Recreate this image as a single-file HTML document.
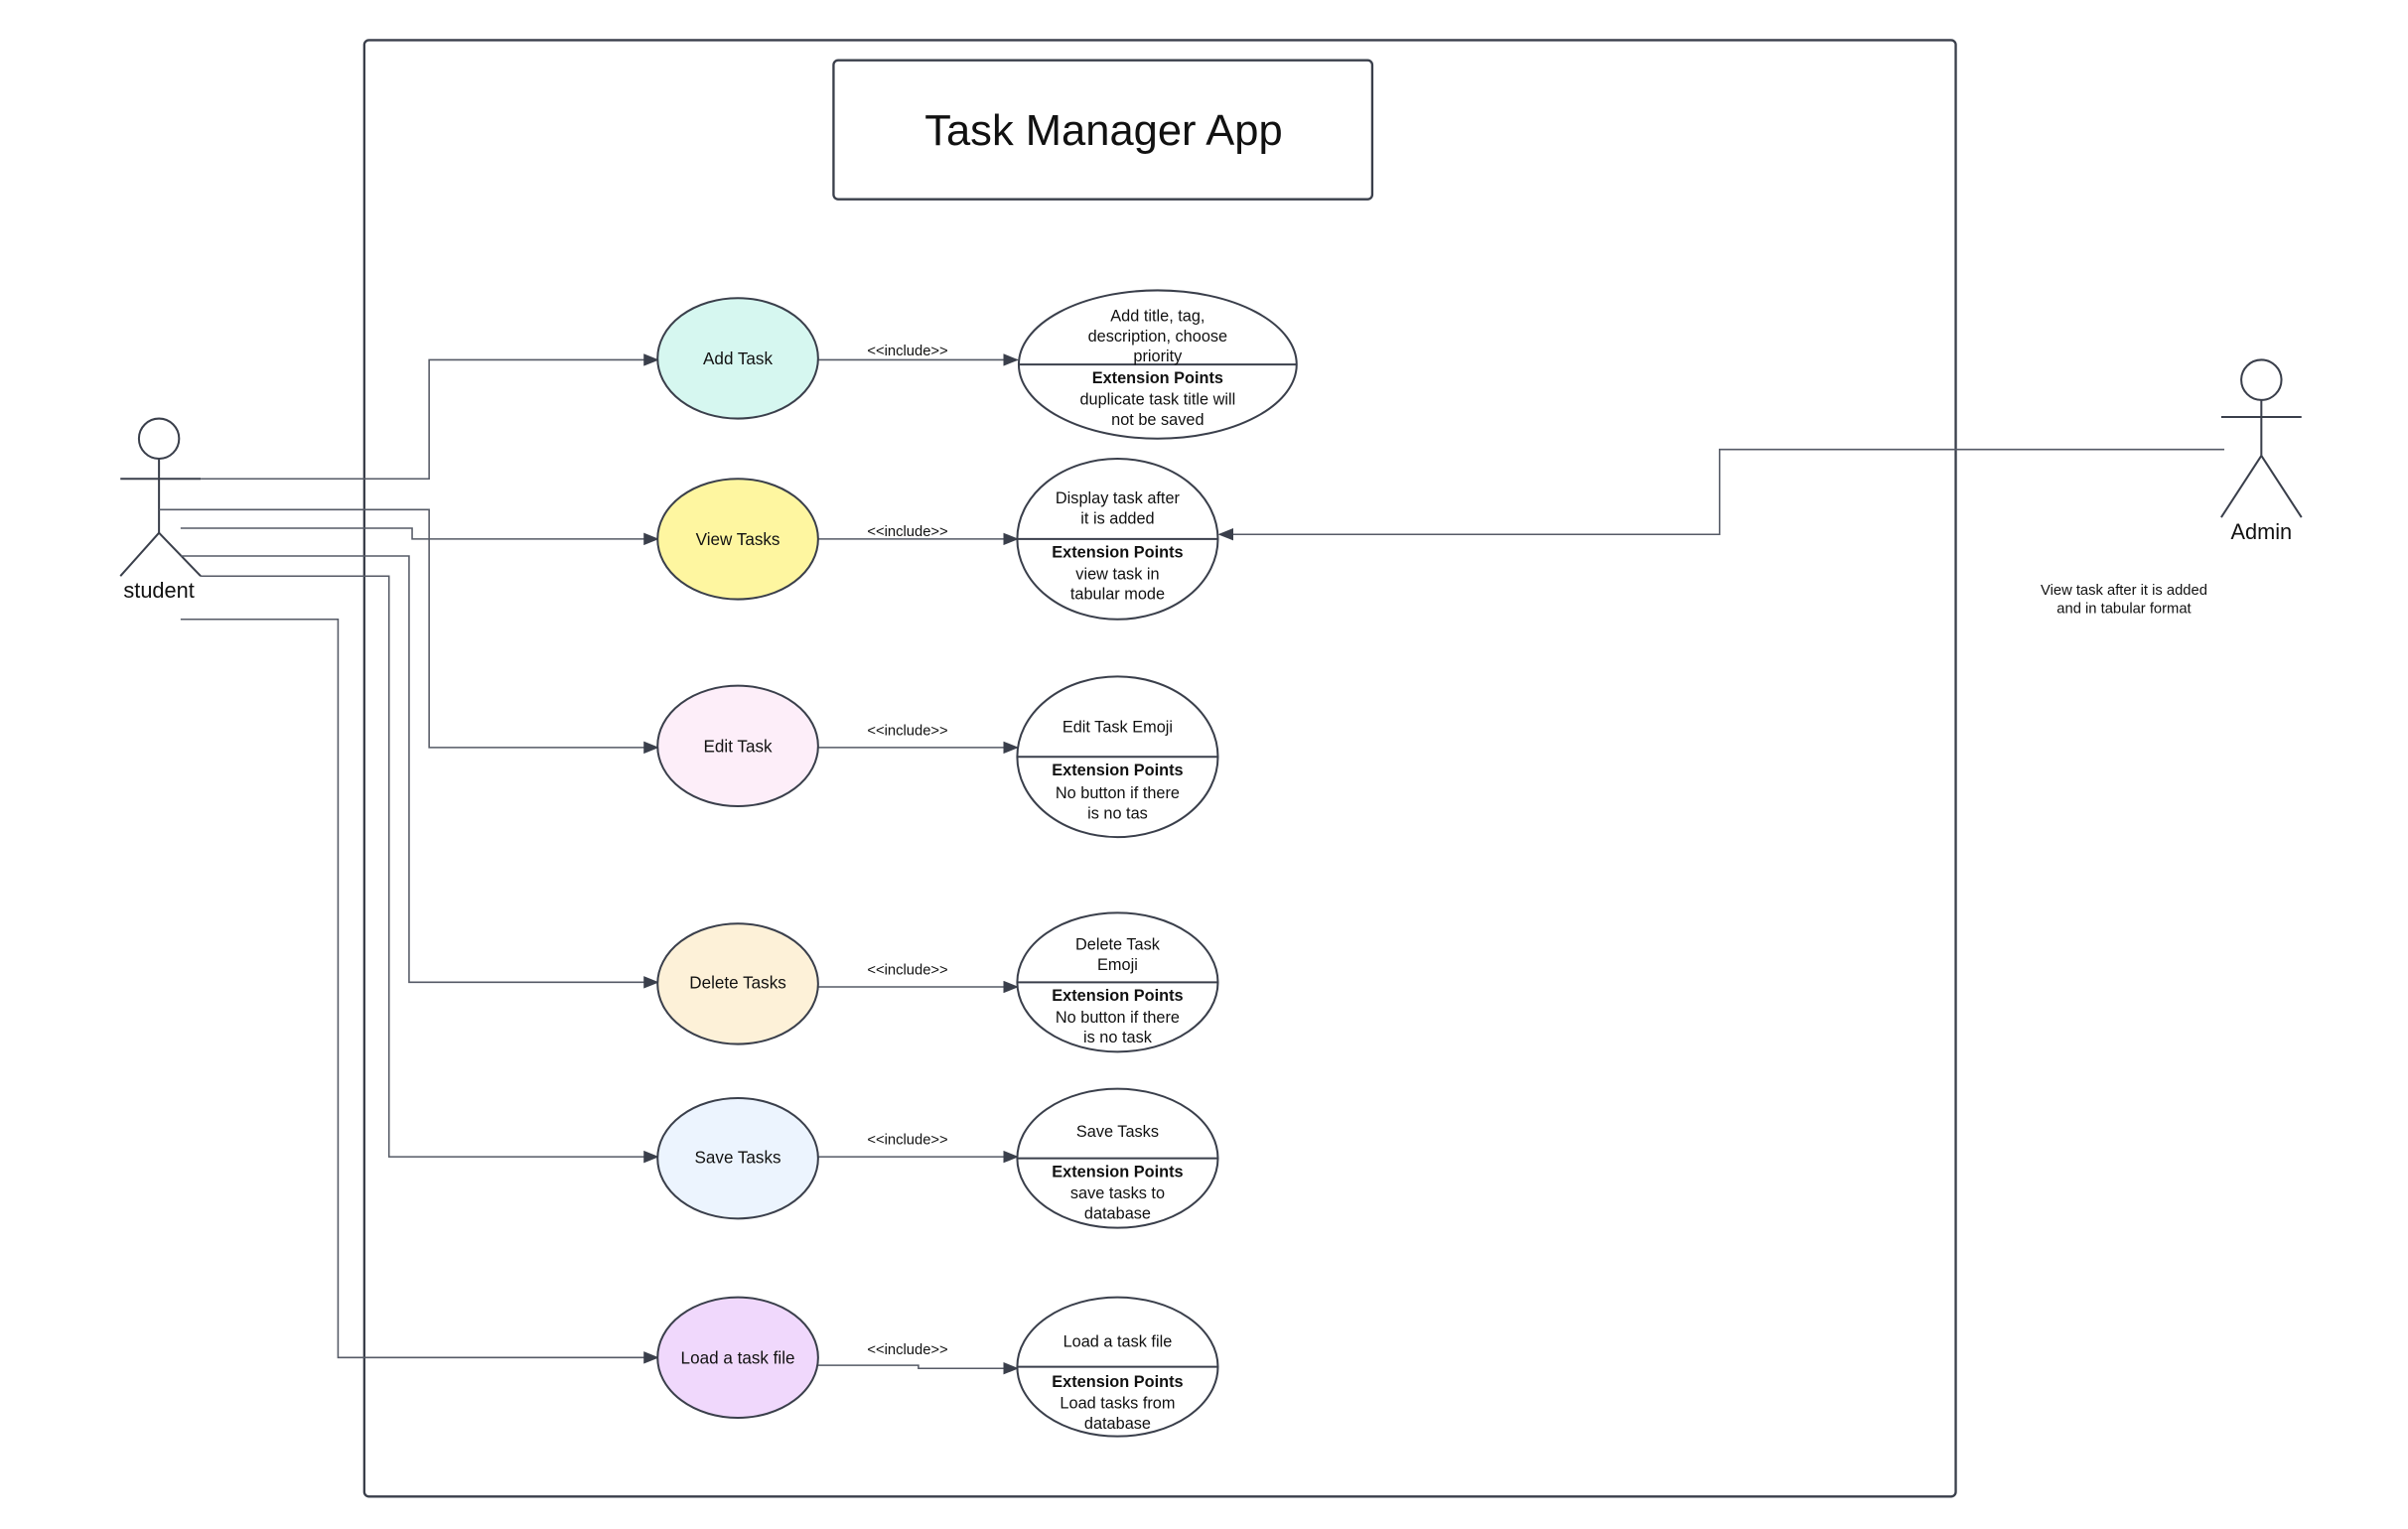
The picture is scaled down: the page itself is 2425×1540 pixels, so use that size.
<!DOCTYPE html>
<html><head><meta charset="utf-8"><style>
html,body{margin:0;padding:0;background:#fff;}
svg{display:block;}
text{font-family:"Liberation Sans",sans-serif;fill:#111;}
</style></head><body>
<svg width="2425" height="1540" viewBox="0 0 1560 990" preserveAspectRatio="none" xmlns="http://www.w3.org/2000/svg">
<defs>
<marker id="ah" markerWidth="10" markerHeight="8" refX="9" refY="4" orient="auto" markerUnits="userSpaceOnUse">
<path d="M0,0 L10,4 L0,8 z" fill="#3a3f4b"/></marker>
</defs>
<rect x="236" y="26" width="1031" height="943" rx="3" fill="none" stroke="#3a3f4b" stroke-width="1.5"/>
<rect x="540" y="39" width="349" height="90" rx="3" fill="#fff" stroke="#3a3f4b" stroke-width="1.5"/>
<text x="715" y="94" font-size="28" text-anchor="middle">Task Manager App</text>

<!-- student -->
<g stroke="#3a3f4b" stroke-width="1.3" fill="none">
<circle cx="103" cy="284" r="13" fill="#fff"/>
<line x1="103" y1="297" x2="103" y2="345"/>
<line x1="78" y1="310" x2="130" y2="310"/>
<line x1="103" y1="345" x2="78" y2="373"/>
<line x1="103" y1="345" x2="130" y2="373"/>
<circle cx="1465" cy="246" r="13" fill="#fff"/>
<line x1="1465" y1="259" x2="1465" y2="295"/>
<line x1="1439" y1="270" x2="1491" y2="270"/>
<line x1="1465" y1="295" x2="1439" y2="335"/>
<line x1="1465" y1="295" x2="1491" y2="335"/>
</g>
<text x="103" y="387" font-size="14" text-anchor="middle">student</text>
<text x="1465" y="349" font-size="14" text-anchor="middle">Admin</text>
<text x="1376" y="385" font-size="9.5" text-anchor="middle">View task after it is added</text>
<text x="1376" y="397" font-size="9.5" text-anchor="middle">and in tabular format</text>

<!-- connectors -->
<g stroke="#555a66" stroke-width="1" fill="none">
<path d="M130,310 H278 V233 H426" marker-end="url(#ah)"/>
<path d="M103,330 H278 V484 H426" marker-end="url(#ah)"/>
<path d="M117,342 H267 V349 H426" marker-end="url(#ah)"/>
<path d="M117,360 H265 V636 H426" marker-end="url(#ah)"/>
<path d="M130,373 H252 V749 H426" marker-end="url(#ah)"/>
<path d="M117,401 H219 V879 H426" marker-end="url(#ah)"/>
<path d="M1441,291 H1114 V346 H790" marker-end="url(#ah)"/>
<path d="M530,233 H659" marker-end="url(#ah)"/>
<path d="M530,349 H659" marker-end="url(#ah)"/>
<path d="M530,484 H659" marker-end="url(#ah)"/>
<path d="M530,639 H659" marker-end="url(#ah)"/>
<path d="M530,749 H659" marker-end="url(#ah)"/>
<path d="M530,884 H595 V886 H659" marker-end="url(#ah)"/>
</g>
<g font-size="9.5" text-anchor="middle">
<text x="588" y="230">&lt;&lt;include&gt;&gt;</text>
<text x="588" y="347">&lt;&lt;include&gt;&gt;</text>
<text x="588" y="476">&lt;&lt;include&gt;&gt;</text>
<text x="588" y="631">&lt;&lt;include&gt;&gt;</text>
<text x="588" y="741">&lt;&lt;include&gt;&gt;</text>
<text x="588" y="877">&lt;&lt;include&gt;&gt;</text>
</g>

<!-- use cases -->
<g stroke="#3a3f4b" stroke-width="1.3">
<ellipse cx="478" cy="232" rx="52" ry="39" fill="#d6f7f0"/>
<ellipse cx="478" cy="349" rx="52" ry="39" fill="#fef6a0"/>
<ellipse cx="478" cy="483" rx="52" ry="39" fill="#fdeef9"/>
<ellipse cx="478" cy="637" rx="52" ry="39" fill="#fdf1d8"/>
<ellipse cx="478" cy="750" rx="52" ry="39" fill="#ecf4fe"/>
<ellipse cx="478" cy="879" rx="52" ry="39" fill="#f0d8fc"/>
</g>
<g font-size="11" text-anchor="middle">
<text x="478" y="236">Add Task</text>
<text x="478" y="353">View Tasks</text>
<text x="478" y="487">Edit Task</text>
<text x="478" y="640">Delete Tasks</text>
<text x="478" y="753">Save Tasks</text>
<text x="478" y="883">Load a task file</text>
</g>

<!-- right ellipses -->
<g stroke="#3a3f4b" stroke-width="1.3" fill="#fff">
<ellipse cx="750" cy="236" rx="90" ry="48"/>
<line x1="660" y1="236" x2="840" y2="236"/>
<ellipse cx="724" cy="349" rx="65" ry="52"/>
<line x1="659" y1="349" x2="789" y2="349"/>
<ellipse cx="724" cy="490" rx="65" ry="52"/>
<line x1="659" y1="490" x2="789" y2="490"/>
<ellipse cx="724" cy="636" rx="65" ry="45"/>
<line x1="659" y1="636" x2="789" y2="636"/>
<ellipse cx="724" cy="750" rx="65" ry="45"/>
<line x1="659" y1="750" x2="789" y2="750"/>
<ellipse cx="724" cy="885" rx="65" ry="45"/>
<line x1="659" y1="885" x2="789" y2="885"/>
</g>
<g font-size="10.5" text-anchor="middle">
<text x="750" y="208">Add title, tag,</text>
<text x="750" y="221">description, choose</text>
<text x="750" y="234">priority</text>
<text x="750" y="248" font-weight="bold">Extension Points</text>
<text x="750" y="262">duplicate task title will</text>
<text x="750" y="275">not be saved</text>

<text x="724" y="326">Display task after</text>
<text x="724" y="339">it is added</text>
<text x="724" y="361" font-weight="bold">Extension Points</text>
<text x="724" y="375">view task in</text>
<text x="724" y="388">tabular mode</text>

<text x="724" y="474">Edit Task Emoji</text>
<text x="724" y="502" font-weight="bold">Extension Points</text>
<text x="724" y="517">No button if there</text>
<text x="724" y="530">is no tas</text>

<text x="724" y="615">Delete Task</text>
<text x="724" y="628">Emoji</text>
<text x="724" y="648" font-weight="bold">Extension Points</text>
<text x="724" y="662">No button if there</text>
<text x="724" y="675">is no task</text>

<text x="724" y="736">Save Tasks</text>
<text x="724" y="762" font-weight="bold">Extension Points</text>
<text x="724" y="776">save tasks to</text>
<text x="724" y="789">database</text>

<text x="724" y="872">Load a task file</text>
<text x="724" y="898" font-weight="bold">Extension Points</text>
<text x="724" y="912">Load tasks from</text>
<text x="724" y="925">database</text>
</g>
</svg>
</body></html>
